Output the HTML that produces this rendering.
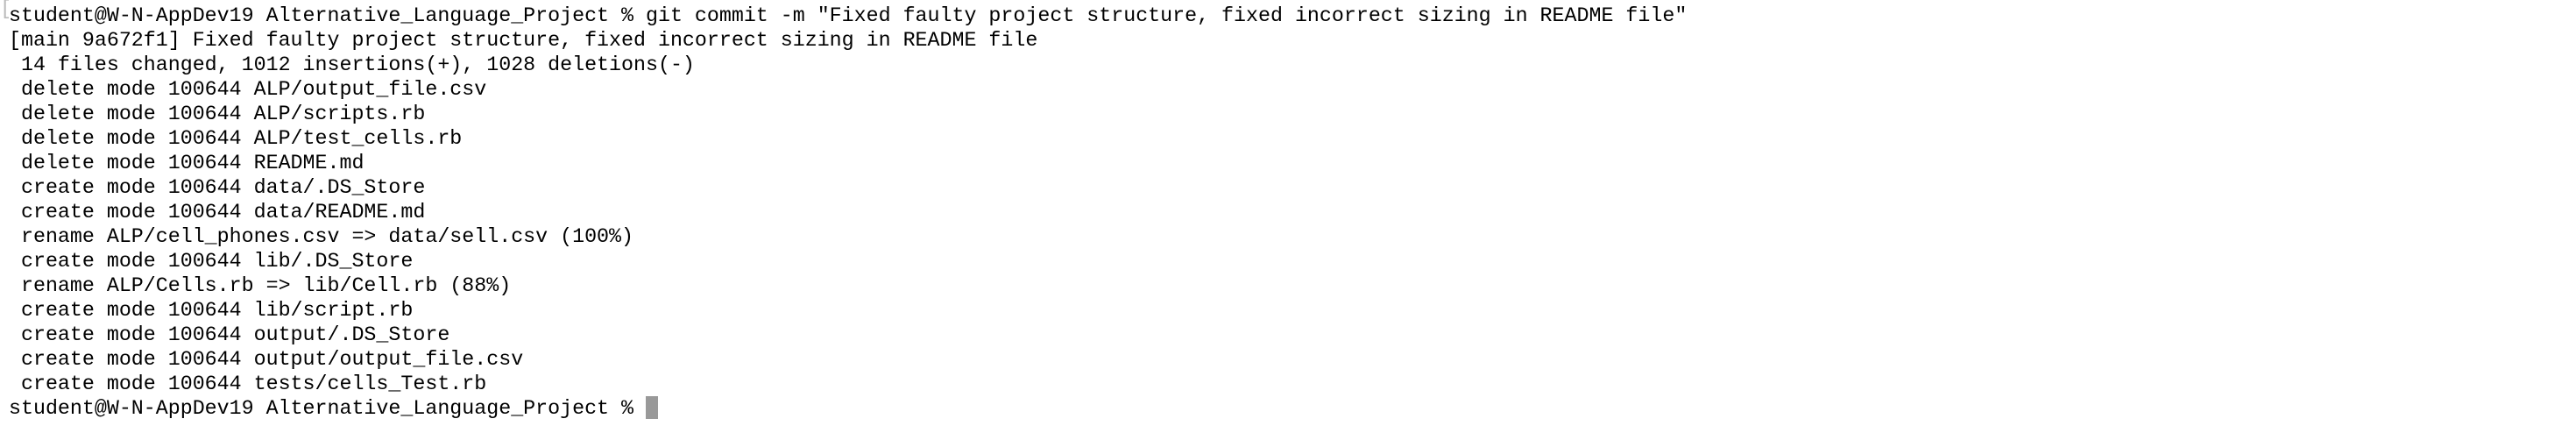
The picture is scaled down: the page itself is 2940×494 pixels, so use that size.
<!DOCTYPE html>
<html><head><meta charset="utf-8"><style>
html,body{margin:0;padding:0;background:#fff;width:2940px;height:494px;overflow:hidden}
pre{margin:-4px 0 0 0;padding:0 0 0 10px;font-family:"Liberation Mono",monospace;font-size:23.3px;line-height:28px;color:#000;white-space:pre}
.b{color:#bbb;margin-left:-10px;display:inline-block;width:10px;overflow:hidden}
.c{display:inline-block;width:14px;height:26px;background:#999;vertical-align:-6px}
</style></head><body><pre><span class="b">[</span>student@W-N-AppDev19 Alternative_Language_Project % git commit -m "Fixed faulty project structure, fixed incorrect sizing in README file"
[main 9a672f1] Fixed faulty project structure, fixed incorrect sizing in README file
 14 files changed, 1012 insertions(+), 1028 deletions(-)
 delete mode 100644 ALP/output_file.csv
 delete mode 100644 ALP/scripts.rb
 delete mode 100644 ALP/test_cells.rb
 delete mode 100644 README.md
 create mode 100644 data/.DS_Store
 create mode 100644 data/README.md
 rename ALP/cell_phones.csv =&gt; data/sell.csv (100%)
 create mode 100644 lib/.DS_Store
 rename ALP/Cells.rb =&gt; lib/Cell.rb (88%)
 create mode 100644 lib/script.rb
 create mode 100644 output/.DS_Store
 create mode 100644 output/output_file.csv
 create mode 100644 tests/cells_Test.rb
student@W-N-AppDev19 Alternative_Language_Project % <span class="c"></span></pre></body></html>
